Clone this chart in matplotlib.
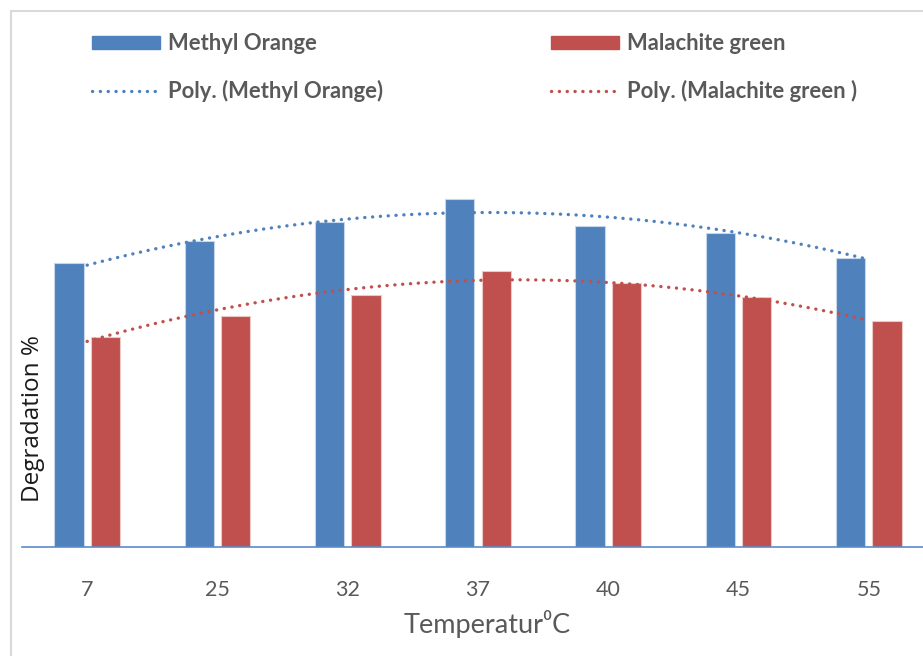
import matplotlib.pyplot as plt
import numpy as np
from matplotlib.lines import Line2D
from matplotlib.patches import Patch, Rectangle

temperatures = ["7", "25", "32", "37", "40", "45", "55"]
methyl_orange = [71.0, 76.5, 81.2, 87.0, 80.2, 78.5, 72.2]
malachite_green = [52.5, 57.8, 63.0, 69.0, 66.0, 62.5, 56.5]

blue = "#4F81BD"
red = "#C0504D"
grey = "#595959"

fig = plt.figure(figsize=(9.23, 6.56), dpi=100)
W, H = 923, 656

# frame around the chart area (the picture is a crop of a bigger chart)
fig.patches.append(Rectangle((11 / W, -0.1), 2, 1.1 - 11 / H, transform=fig.transFigure,
                             fill=False, edgecolor="#d9d9d9", lw=1.5))

ax = fig.add_axes([22 / W, 1 - 547 / H, 912 / W, 400 / H])
x = np.arange(len(temperatures))
width = 0.225
ax.bar(x - 0.14, methyl_orange, width, color=blue, edgecolor="#c8d6ea", lw=0.8)
ax.bar(x + 0.14, malachite_green, width, color=red, edgecolor="#ecc8c7", lw=0.8)

# order 2 polynomial trendlines, as in the spreadsheet
xs = np.linspace(0, len(temperatures) - 1, 200)
dot = (0, (0.05, 2.3))
for vals, col in [(methyl_orange, blue), (malachite_green, red)]:
    coef = np.polyfit(x, vals, 2)
    ax.plot(xs, np.polyval(coef, xs), color=col, lw=2.4, linestyle=dot,
            dash_capstyle="round")

ax.set_xlim(-0.5, len(temperatures) - 0.5)
ax.set_ylim(0, 100)
ax.set_yticks([])
ax.set_xticks(x)
ax.set_xticklabels(temperatures, fontsize=15.5, color=grey, family="Lato")
ax.tick_params(axis="x", length=0, pad=24)
for s in ["left", "right", "top"]:
    ax.spines[s].set_visible(False)
ax.spines["bottom"].set_color("#5B8BC9")
ax.spines["bottom"].set_linewidth(1.2)

fig.text(487 / W, 1 - 624 / H, "Temperatur⁰C", fontsize=19.5, color=grey,
         ha="center", va="center", family=["Lato", "DejaVu Sans"])
fig.text(33 / W, 1 - 419 / H, "Degradation %", fontsize=17.5, color="#1a1a1a",
         rotation=90, ha="center", va="center", family="Open Sans")

leg_font = {"family": "Lato", "weight": "bold", "size": 15.8}
left_handles = [Patch(color=blue),
                Line2D([], [], color=blue, lw=2.4, linestyle=dot, dash_capstyle="round")]
right_handles = [Patch(color=red),
                 Line2D([], [], color=red, lw=2.4, linestyle=dot, dash_capstyle="round")]
for handles, labels, xpos in [
    (left_handles, ["Methyl Orange", "Poly. (Methyl Orange)"], 92),
    (right_handles, ["Malachite green", "Poly. (Malachite green )"], 551),
]:
    leg = fig.legend(handles, labels, loc="upper left",
                     bbox_to_anchor=(xpos / W, 1 - 33 / H), prop=leg_font,
                     frameon=False, handlelength=3.1, handleheight=0.55,
                     handletextpad=0.35, labelspacing=1.2, borderpad=0,
                     borderaxespad=0)
    for t in leg.get_texts():
        t.set_color(grey)

fig.savefig("out.png", dpi=100)
